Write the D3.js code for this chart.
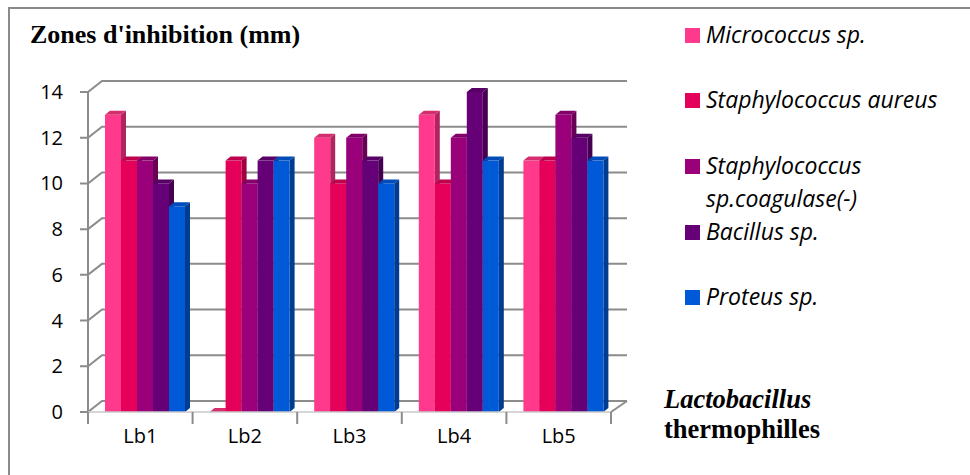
<!DOCTYPE html>
<html>
<head>
<meta charset="utf-8">
<script src="https://cdn.jsdelivr.net/npm/d3@7"></script>
<style>
  body { margin: 0; background: #fff; }
  svg { display: block; }
</style>
</head>
<body>
<script>
const categories = ['Lb1', 'Lb2', 'Lb3', 'Lb4', 'Lb5'];
const seriesNames = ['Micrococcus sp.', 'Staphylococcus aureus', 'Staphylococcus sp.coagulase(-)', 'Bacillus sp.', 'Proteus sp.'];
const micrococcus = [13, 0, 12, 13, 11];
const staphAureus = [11, 11, 10, 10, 11];
const staphCoag = [11, 10, 12, 12, 13];
const bacillus = [10, 11, 11, 14, 12];
const proteus = [9, 11, 10, 11, 11];
const yTicks = [0, 2, 4, 6, 8, 10, 12, 14];

const seriesValues = [micrococcus, staphAureus, staphCoag, bacillus, proteus];
const colors = [
  { front: '#FF3A8C', side: '#B02560', top: '#D42E6E' },
  { front: '#E5005A', side: '#A0003F', top: '#C0004C' },
  { front: '#99007A', side: '#680054', top: '#820068' },
  { front: '#660077', side: '#450051', top: '#570066' },
  { front: '#0059D6', side: '#003C8F', top: '#004CB8' }
];

const W = 970, H = 475;
const svg = d3.select('body').append('svg')
  .attr('width', W)
  .attr('height', H);

// outer frame (only top and left visible)
svg.append('path')
  .attr('d', 'M9,475 V8 H970')
  .attr('fill', 'none')
  .attr('stroke', '#8a8a8a')
  .attr('stroke-width', 2);

const x = d3.scaleBand().domain(categories).range([88, 611]);
const y = d3.scaleLinear().domain([0, 14]).range([412, 92]);
const xs = d3.scaleBand().domain(seriesNames).range([17, 97]);

const dX = 14, dY = -11; // wall depth
const bx = 5, by = -4;   // bar depth
const gridColor = '#8c8c8c';
const sans = '"Open Sans", sans-serif';
const serif = '"Liberation Serif", serif';

const grid = svg.append('g');
// left wall diagonals + back wall gridlines
yTicks.forEach(t => {
  grid.append('path')
    .attr('d', `M80,${y(t)} H88 L${88 + dX},${y(t) + dY} H${611 + 16}`)
    .attr('fill', 'none')
    .attr('stroke', gridColor)
    .attr('stroke-width', 2);
});
// front vertical axis
grid.append('line')
  .attr('x1', 88).attr('x2', 88)
  .attr('y1', y(14)).attr('y2', 424)
  .attr('stroke', gridColor).attr('stroke-width', 2);
// floor right edge
grid.append('line')
  .attr('x1', 611).attr('y1', 412)
  .attr('x2', 627).attr('y2', 412 + dY)
  .attr('stroke', gridColor).attr('stroke-width', 2);

// bars
const bars = svg.append('g');
categories.forEach((c, ci) => {
  seriesNames.forEach((s, si) => {
    const v = seriesValues[si][ci];
    const x0 = x(c) + xs(s);
    const w = xs.bandwidth();
    const yt = y(v), yb = y(0);
    const col = colors[si];
    if (v > 0) {
      bars.append('polygon')
        .attr('points', [[x0 + w, yt], [x0 + w + bx, yt + by], [x0 + w + bx, yb + by], [x0 + w, yb]].join(' '))
        .attr('fill', col.side);
      bars.append('rect')
        .attr('x', x0).attr('y', yt)
        .attr('width', w).attr('height', yb - yt)
        .attr('fill', col.front);
    }
    bars.append('polygon')
      .attr('points', [[x0, yt], [x0 + bx, yt + by], [x0 + w + bx, yt + by], [x0 + w, yt]].join(' '))
      .attr('fill', col.top);
  });
});

// floor front edge
svg.append('line')
  .attr('x1', 88).attr('x2', 611)
  .attr('y1', 412).attr('y2', 412)
  .attr('stroke', '#c8c8c8').attr('stroke-width', 1.5);

// category ticks
const xAxis = svg.append('g');
d3.range(categories.length + 1).forEach(i => {
  const xp = 88 + i * x.step();
  xAxis.append('line')
    .attr('x1', xp).attr('x2', xp)
    .attr('y1', 412).attr('y2', 424)
    .attr('stroke', gridColor).attr('stroke-width', 2);
});
xAxis.selectAll('text.cat')
  .data(categories)
  .enter().append('text')
  .attr('class', 'cat')
  .attr('x', d => x(d) + x.bandwidth() / 2)
  .attr('y', 443)
  .attr('text-anchor', 'middle')
  .style('font-family', sans)
  .style('font-size', '20px')
  .text(d => d);

// y tick labels
svg.selectAll('text.ytick')
  .data(yTicks)
  .enter().append('text')
  .attr('class', 'ytick')
  .attr('x', 63)
  .attr('y', d => y(d) + 7)
  .attr('text-anchor', 'end')
  .style('font-family', sans)
  .style('font-size', '20px')
  .text(d => d);

// title
svg.append('text')
  .attr('x', 30).attr('y', 43)
  .style('font-family', serif)
  .style('font-weight', 'bold')
  .style('font-size', '26px')
  .text("Zones d'inhibition (mm)");

// legend
const legendY = [35, 100, 166, 232, 297];
const legend = svg.append('g');
seriesNames.forEach((s, i) => {
  legend.append('rect')
    .attr('x', 685).attr('y', legendY[i] - 7)
    .attr('width', 15).attr('height', 15)
    .attr('fill', colors[i].front);
  const lines = i === 2 ? ['Staphylococcus', 'sp.coagulase(-)'] : [s];
  lines.forEach((l, li) => {
    legend.append('text')
      .attr('x', 706).attr('y', legendY[i] + 8 + li * 33)
      .style('font-family', sans)
      .style('font-style', 'italic')
      .style('font-size', '23px')
      .text(l);
  });
});

// axis title
svg.append('text')
  .attr('x', 664).attr('y', 408)
  .style('font-family', serif)
  .style('font-weight', 'bold')
  .style('font-style', 'italic')
  .style('font-size', '26.5px')
  .text('Lactobacillus');
svg.append('text')
  .attr('x', 664).attr('y', 438)
  .style('font-family', serif)
  .style('font-weight', 'bold')
  .style('font-size', '26.5px')
  .text('thermophilles');
</script>
</body>
</html>
